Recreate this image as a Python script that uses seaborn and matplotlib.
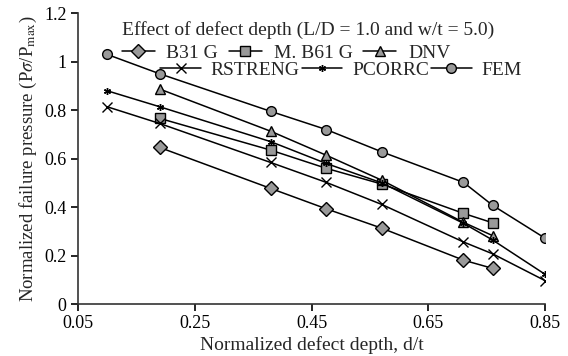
import numpy as np
import matplotlib
matplotlib.use("Agg")
import matplotlib.pyplot as plt
import seaborn as sbn

# values
d_t = [0.1, 0.19, 0.38, 0.475, 0.57, 0.71, 0.76, 0.85]
d_t_mid = [0.19, 0.38, 0.475, 0.57, 0.71, 0.76]
b31g = [0.646, 0.477, 0.393, 0.313, 0.181, 0.147]
mb61g = [0.766, 0.635, 0.56, 0.495, 0.374, 0.335]
dnv = [0.887, 0.713, 0.614, 0.511, 0.337, 0.282]
rstreng = [0.814, 0.745, 0.584, 0.502, 0.411, 0.256, 0.207, 0.096]
pcorrc = [0.88, 0.814, 0.67, 0.58, 0.50, 0.333, 0.264, 0.122]
fem = [1.03, 0.95, 0.795, 0.72, 0.628, 0.502, 0.407, 0.271]
x_ticks = [0.05, 0.25, 0.45, 0.65, 0.85]
y_ticks = [0, 0.2, 0.4, 0.6, 0.8, 1.0, 1.2]
y_tick_labels = ['0', '0.2', '0.4', '0.6', '0.8', '1', '1.2']

sbn.set_style("ticks")
plt.rcParams['font.family'] = ['Liberation Serif', 'DejaVu Serif']
plt.rcParams['mathtext.fontset'] = 'stix'

fig = plt.figure(figsize=(5.68, 3.56), dpi=100)
ax = fig.add_axes([0.137, 0.146, 0.823, 0.817])

grey = '#999999'
series = [
    (d_t_mid, b31g, 'B31 G', 'D', 7),
    (d_t_mid, mb61g, 'M. B61 G', 's', 7),
    (d_t_mid, dnv, 'DNV', '^', 7),
    (d_t, rstreng, 'RSTRENG', 'x', 7),
    (d_t, pcorrc, 'PCORRC', (6, 2, 0), 5),
    (d_t, fem, 'FEM', 'o', 7),
]
for xs, ys, lab, mk, ms in series:
    sbn.lineplot(x=xs, y=ys, ax=ax, color='black', linewidth=1.1,
                 marker=mk, markersize=ms, markerfacecolor=grey,
                 markeredgecolor='black', markeredgewidth=1.0, label=lab)

ax.set_xlim(0.05, 0.85)
ax.set_ylim(0, 1.2)
ax.set_xticks(x_ticks)
ax.set_xticklabels([str(t) for t in x_ticks])
ax.set_yticks(y_ticks)
ax.set_yticklabels(y_tick_labels)
ax.tick_params(direction='out', length=5, width=1.2, labelsize=13, colors='black', pad=3)
for s in ['left', 'bottom']:
    ax.spines[s].set_linewidth(1.2)
    ax.spines[s].set_color('#333333')
sbn.despine(ax=ax)

ax.set_xlabel('Normalized defect depth, d/t', fontsize=14, labelpad=3)
ax.set_ylabel(r'Normalized failure pressure (P$\sigma$/P$_{\rm max}$)', fontsize=13.5, labelpad=4)

handles, labels = ax.get_legend_handles_labels()
leg1 = ax.legend(handles[:3], labels[:3], title='Effect of defect depth (L/D = 1.0 and w/t = 5.0)',
                 loc='upper left', bbox_to_anchor=(0.094, 0.972), ncol=3, frameon=False,
                 fontsize=14, title_fontsize=14, handlelength=1.7, handletextpad=0.6,
                 columnspacing=0.55, borderpad=0, borderaxespad=0, labelspacing=0.25)
leg1._legend_box.align = 'left'
ax.add_artist(leg1)
leg2 = ax.legend(handles[3:], labels[3:], loc='upper left', bbox_to_anchor=(0.176, 0.835),
                 ncol=3, frameon=False, fontsize=14, handlelength=2.1, handletextpad=0.5,
                 columnspacing=0.1, borderpad=0, borderaxespad=0)

plt.savefig('out.png', dpi=100)
